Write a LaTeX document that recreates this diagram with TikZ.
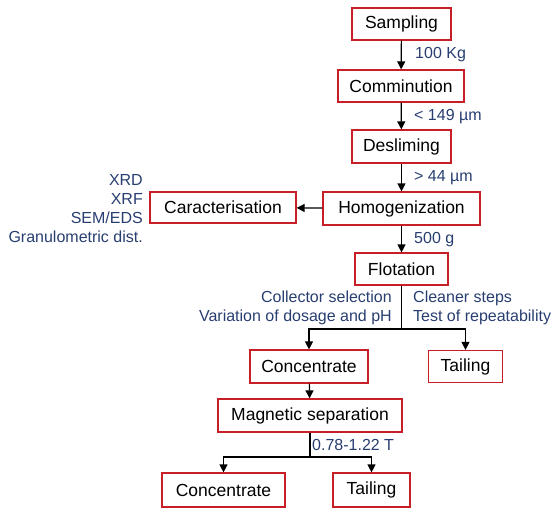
\documentclass[tikz,border=0pt]{standalone}
\usepackage{fontspec}
\setmainfont{Liberation Sans}
\usetikzlibrary{arrows.meta}
\definecolor{boxred}{RGB}{200,30,40}
\definecolor{lblue}{RGB}{40,62,112}
\tikzset{
  procbox/.style={draw=boxred, line width=1.2pt, fill=white, inner sep=0pt,
    font=\fontsize{17.5}{20}\selectfont, text=black},
  flow/.style={line width=1.2pt, -{Triangle[width=8pt,length=8pt]}},
  plain/.style={line width=1.2pt},
  lbl/.style={text=lblue, font=\fontsize{16}{19}\selectfont, inner sep=0pt},
}
\begin{document}
\begin{tikzpicture}[x=1pt,y=-1pt]
\useasboundingbox (0,0) rectangle (553,508);
% boxes
\node[procbox, minimum width=99pt, minimum height=32pt] (samp) at (401.5,24) {Sampling};
\node[procbox, minimum width=126pt, minimum height=32pt] (comm) at (401,86) {Comminution};
\node[procbox, minimum width=99pt, minimum height=33pt] (desl) at (401.5,146.5) {Desliming};
\node[procbox, minimum width=157pt, minimum height=33pt] (homo) at (401.5,208.5) {Homogenization};
\node[procbox, minimum width=146pt, minimum height=31pt] (cara) at (223,207.5) {Caracterisation};
\node[procbox, minimum width=93pt, minimum height=32pt] (flot) at (401.5,269) {Flotation};
\node[procbox, minimum width=118pt, minimum height=33pt] (conc1) at (309,366.5) {Concentrate};
\node[procbox, minimum width=74pt, minimum height=32pt] (tail1) at (465.5,366.5) {Tailing};
\node[procbox, minimum width=184pt, minimum height=33pt] (magn) at (310,415.5) {Magnetic separation};
\node[procbox, minimum width=123pt, minimum height=34pt] (conc2) at (223.5,490) {Concentrate};
\node[procbox, minimum width=77pt, minimum height=34pt] (tail2) at (371.5,490) {Tailing};
% connectors
\draw[flow] (samp) -- (comm);
\draw[flow] (comm) -- (desl);
\draw[flow] (desl) -- (homo);
\draw[flow] (homo) -- (flot);
\draw[flow] (homo) -- (cara);
\coordinate (fs) at (401.5,329);
\draw[plain] (flot.south) -- (fs);
\draw[flow] (fs) -| (conc1.north);
\draw[flow] (fs) -| (tail1.north);
\draw[flow] (conc1) -- (magn);
\coordinate (ms) at (310,457);
\draw[plain] (magn.south) -- (ms);
\draw[flow] (ms) -| (conc2.north);
\draw[flow] (ms) -| (tail2.north);
% labels
\node[lbl, anchor=west] (l1) at (415,55) {100 Kg};
\node[lbl, anchor=west] (l2) at (414,117) {< 149 µm};
\node[lbl, anchor=west] (l3) at (414,178) {> 44 µm};
\node[lbl, anchor=west] (l4) at (414,240) {500 g};
\node[lbl, anchor=east, align=right] (l5) at (143,209) {XRD\\XRF\\SEM/EDS\\Granulometric dist.};
\node[lbl, anchor=east, align=right] (l6) at (392,307.5) {Collector selection\\Variation of dosage and pH};
\node[lbl, anchor=west, align=left] (l7) at (413,307.5) {Cleaner steps\\Test of repeatability};
\node[lbl, anchor=west] (l8) at (312,445) {0.78-1.22 T};
\end{tikzpicture}
\end{document}
